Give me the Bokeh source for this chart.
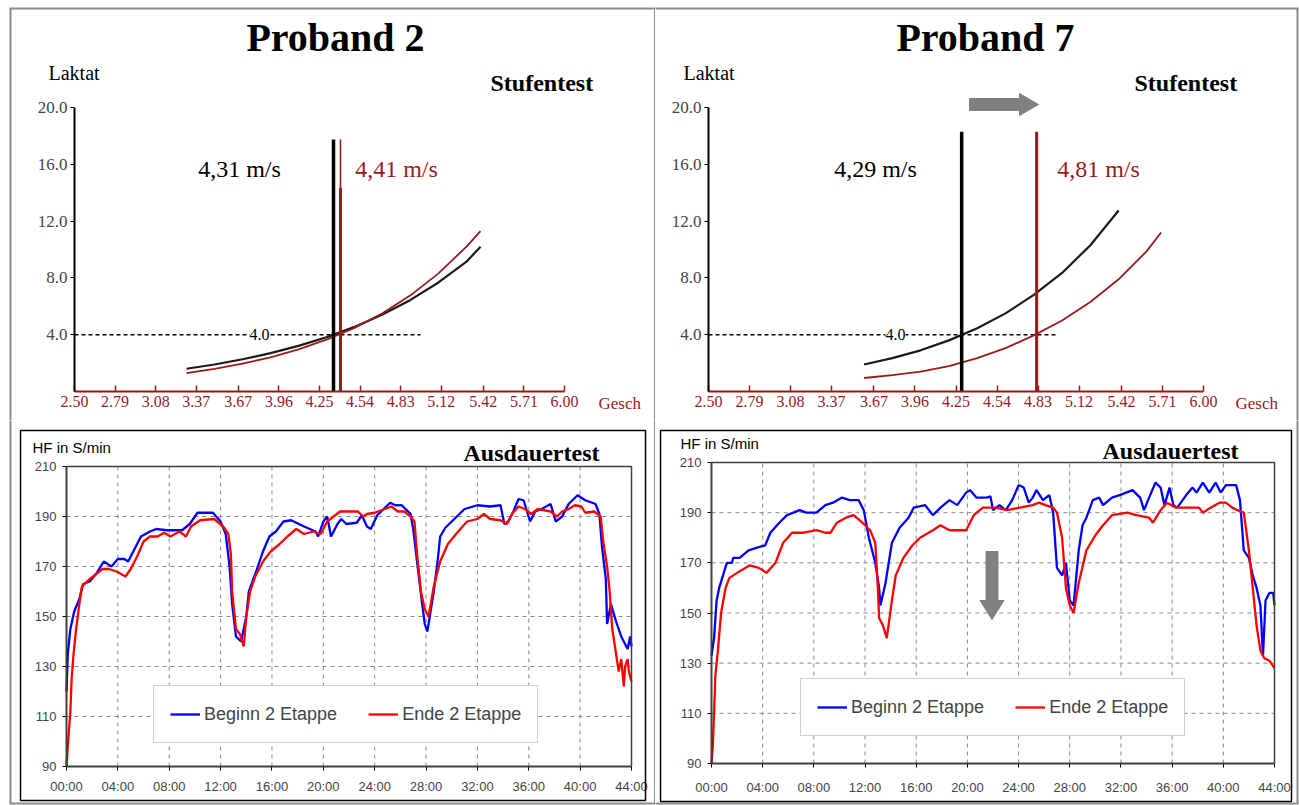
from bokeh.plotting import figure
from bokeh.models import Range1d, Label, BoxAnnotation, FixedTicker, PrintfTickFormatter
from bokeh.layouts import row, column
from bokeh.embed import file_html
from bokeh.resources import INLINE

# ---------------- data ----------------
titles = ["Proband 2", "Proband 7"]

geschw_ticks = [2.50, 2.79, 3.08, 3.37, 3.67, 3.96, 4.25, 4.54, 4.83, 5.12, 5.42, 5.71, 6.00]
laktat_ticks = [4, 8, 12, 16, 20]
zeit_ticks = [0, 4, 8, 12, 16, 20, 24, 28, 32, 36, 40, 44]
zeit_labels = ["00:00", "04:00", "08:00", "12:00", "16:00", "20:00", "24:00",
               "28:00", "32:00", "36:00", "40:00", "44:00"]
hf_ticks = [90, 110, 130, 150, 170, 190, 210]

# Stufentest (lactate vs. speed)
p2_v = [3.3, 3.5, 3.7, 3.9, 4.1, 4.3, 4.5, 4.7, 4.9, 5.1, 5.3, 5.4]
p2_laktat_beginn = [1.6, 1.9, 2.27, 2.70, 3.21, 3.82, 4.55, 5.42, 6.45, 7.68, 9.14, 10.2]
p2_laktat_ende = [1.3, 1.6, 1.96, 2.41, 2.97, 3.65, 4.48, 5.51, 6.77, 8.32, 10.2, 11.3]

p7_v_beginn = [3.6, 3.8, 4.0, 4.2, 4.4, 4.6, 4.8, 5.0, 5.2, 5.4]
p7_laktat_beginn = [1.9, 2.35, 2.9, 3.6, 4.45, 5.5, 6.8, 8.35, 10.3, 12.75]
p7_v_ende = [3.6, 3.8, 4.0, 4.2, 4.4, 4.6, 4.8, 5.0, 5.2, 5.4, 5.6, 5.7]
p7_laktat_ende = [0.95, 1.15, 1.4, 1.78, 2.35, 3.05, 3.95, 5.0, 6.3, 7.9, 9.9, 11.2]

schwelle_laktat = 4.0
p2_schwelle = [4.35, 4.40]
p2_schwelle_text = ["4,31 m/s", "4,41 m/s"]
p7_schwelle = [4.29, 4.82]
p7_schwelle_text = ["4,29 m/s", "4,81 m/s"]

# Ausdauertest (heart rate vs. time, minutes)
p2_beginn_min = [0.0, 0.1, 0.3, 0.6, 1.0, 1.3, 1.8, 2.3, 2.9, 3.5, 4.0, 4.5, 4.8, 5.3, 5.8, 6.5, 7.0,
                 7.8, 9.0, 9.6, 10.2, 11.4, 12.0, 12.4, 12.7, 12.9, 13.2, 13.6, 14.0, 14.2, 14.7, 15.3,
                 15.8, 16.3, 16.9, 17.5, 18.5, 19.4, 19.6, 20.0, 20.3, 20.6, 21.1, 21.4, 21.8, 22.6,
                 23.0, 23.4, 23.7, 24.2, 25.2, 25.6, 26.1, 26.8, 27.0, 27.3, 27.7, 27.9, 28.1, 28.6,
                 28.9, 29.1, 29.5, 30.4, 31.0, 32.0, 33.0, 33.8, 34.1, 34.4, 34.8, 35.2, 35.6, 36.1,
                 36.5, 37.0, 37.7, 38.1, 38.6, 39.1, 39.8, 40.4, 41.2, 41.5, 41.7, 42.0, 42.1, 42.4,
                 42.8, 43.2, 43.7, 43.9, 44.0]
p2_beginn_hf = [120, 135, 145, 152, 157, 163, 164, 167, 172, 170, 173, 173, 172, 177, 182, 184, 185,
                184.5, 184.5, 187, 191.5, 191.5, 188, 183, 170, 155, 142, 140, 150, 160, 167, 176,
                182, 184, 188, 188.5, 186, 184, 182, 188, 190, 182, 187, 189, 187, 187.5,
                190.5, 186, 185, 190.5, 195.5, 194.5, 194.5, 191, 185, 172, 155, 147, 144, 160,
                172, 182, 185.5, 190, 193, 194.5, 194, 194.5, 187, 188, 192, 197, 196.5, 188,
                192, 193, 195, 188, 190, 195, 198.5, 196.5, 195, 191, 178, 165, 147, 155,
                148, 142, 137, 142, 138]

p2_ende_min = [0.0, 0.1, 0.3, 0.4, 0.55, 0.75, 1.0, 1.2, 1.6, 2.3, 2.8, 3.3, 3.9, 4.6, 5.0, 5.5, 6.0,
               6.5, 7.1, 7.6, 8.1, 8.8, 9.3, 9.7, 10.4, 11.5, 12.2, 12.6, 12.8, 12.9, 13.2, 13.5,
               13.8, 14.0, 14.3, 14.7, 15.3, 15.9, 16.6, 17.2, 17.9, 18.5, 19.2, 19.8, 20.3, 20.8,
               21.3, 22.7, 23.1, 23.4, 24.0, 24.8, 25.3, 25.8, 26.3, 26.8, 27.1, 27.3, 27.6, 27.9,
               28.2, 28.6, 29.1, 29.7, 30.5, 31.2, 32.0, 32.5, 33.0, 33.8, 34.3, 34.7, 35.2, 35.7,
               36.2, 36.7, 37.7, 38.2, 38.6, 39.1, 39.6, 40.1, 40.4, 41.1, 41.6, 41.8, 42.1, 42.3,
               42.5, 42.8, 43.0, 43.2, 43.4, 43.5, 43.7, 43.8, 44.0]
p2_ende_hf = [90, 98, 112, 125, 135, 145, 155, 162, 164, 167, 169, 169, 168, 166, 169, 174, 180,
              182, 182, 183.5, 182, 184, 182, 186, 188.5, 189, 186, 183, 175, 160, 145, 143,
              138, 150, 160, 166, 172, 176, 179, 182, 185, 183, 184, 183, 188, 190,
              192, 192, 190, 191, 191.5, 193, 194, 192, 192, 190, 188, 175, 160, 153,
              150, 162, 172, 179, 184, 188, 189, 191, 189, 188.5, 187, 191, 194, 193,
              191, 193, 192, 190, 192, 193, 194.5, 194, 191.5, 192, 190, 180, 170, 160,
              145, 135, 128, 133, 122, 130, 133, 128, 124]

p7_beginn_min = [0.0, 0.2, 0.4, 0.6, 0.9, 1.2, 1.6, 1.7, 2.2, 2.9, 3.5, 4.2, 4.6, 5.3, 5.9, 6.9, 7.4,
                 8.2, 8.9, 9.5, 10.2, 10.8, 11.5, 11.9, 12.3, 12.8, 13.1, 13.2, 13.6, 14.1, 14.7,
                 15.4, 15.8, 16.7, 17.3, 17.9, 18.6, 19.2, 19.9, 20.2, 20.7, 21.5, 21.8, 22.0, 22.5,
                 23.0, 23.5, 24.0, 24.4, 24.8, 25.1, 25.4, 25.9, 26.4, 26.7, 27.0, 27.4, 27.7, 28.0,
                 28.3, 28.7, 29.0, 29.3, 29.8, 30.3, 30.6, 31.3, 31.9, 32.9, 33.5, 33.8, 34.2, 34.7,
                 35.1, 35.4, 35.8, 36.1, 36.4, 37.1, 37.6, 37.9, 38.4, 38.9, 39.4, 39.8, 40.2, 41.0,
                 41.3, 41.6, 42.0, 42.3, 42.6, 42.9, 43.1, 43.3, 43.6, 43.9, 44.0]
p7_beginn_hf = [133, 140, 155, 160, 165, 170, 170, 172, 172, 175, 176, 177, 182, 186, 189, 191, 190,
                190, 193, 194, 196, 195, 195, 191, 180, 170, 160, 153, 162, 178, 184,
                188, 192, 193, 189, 192, 195, 193, 198, 199, 196, 196, 196.5, 191, 193,
                191, 195, 201, 200, 194, 196, 199, 195, 197, 190, 168, 165, 170, 155,
                153, 175, 185, 188, 195, 196, 193, 196, 197, 199, 196, 191, 196, 202,
                200, 193, 200, 193, 192, 197, 200, 198, 202, 198, 202, 198, 201, 201,
                195, 175, 172, 165, 160, 153, 133, 155, 158, 158, 153]

p7_ende_min = [0.0, 0.1, 0.2, 0.3, 0.5, 0.75, 1.1, 1.4, 2.0, 3.0, 3.7, 4.3, 5.0, 5.6, 6.3, 7.2, 8.2,
               8.9, 9.3, 9.8, 10.5, 11.1, 11.8, 12.4, 12.8, 13.0, 13.1, 13.4, 13.7, 14.1, 14.4,
               15.0, 15.7, 16.3, 17.3, 17.9, 18.6, 19.2, 19.9, 20.5, 21.2, 22.2, 23.1, 24.1, 25.1,
               25.6, 26.1, 26.7, 27.0, 27.4, 27.7, 28.0, 28.3, 28.7, 29.3, 30.0, 30.6, 31.3, 32.5,
               33.2, 34.2, 34.5, 35.1, 35.6, 36.3, 37.1, 38.1, 38.4, 39.0, 39.7, 40.2, 40.7, 41.1,
               41.6, 42.0, 42.3, 42.6, 42.9, 43.2, 43.6, 44.0]
p7_ende_hf = [90, 97, 110, 125, 135, 150, 160, 164, 166, 169, 168, 166, 170, 178, 182, 182, 183,
              182, 182, 186, 188, 189, 186, 183, 178, 160, 148, 145, 140, 155, 165,
              172, 177, 180, 183, 185, 183, 183, 183, 189, 192, 192, 191, 192, 193,
              194, 193, 192, 190, 180, 160, 153, 150, 162, 175, 181, 185, 189, 190,
              189, 188, 186, 191, 194, 192, 192, 192, 190, 192, 194, 194, 192, 191,
              190, 175, 160, 145, 135, 132, 131, 128]

# ---------------- styling constants ----------------
DARKRED = "#9a1a1a"
SERIF = "Liberation Serif"
SANS = "Liberation Sans"
GRAYLINE = "#8c8c8c"


def lin(pa, va, pb, vb):
    k = (vb - va) / (pb - pa)
    return lambda p: va + (p - pa) * k


def panel(canvas, xcal, ycal):
    """Figure whose frame fills the whole canvas; axes are pinned with fixed_location."""
    cx0, cy0, cx1, cy1 = canvas
    X = lin(*xcal)
    Y = lin(*ycal)
    p = figure(width=cx1 - cx0, height=cy1 - cy0,
               x_range=Range1d(X(cx0), X(cx1)), y_range=Range1d(Y(cy1), Y(cy0)),
               min_border_left=0, min_border_right=0, min_border_top=0, min_border_bottom=0,
               output_backend="svg", toolbar_location=None)
    p.background_fill_color = "white"
    p.border_fill_color = "white"
    p.outline_line_color = None
    p.grid.visible = False
    return p, X, Y


def label(p, X, Y, px, py, text, size, font=SERIF, style="normal", color="black",
          align="left", baseline="middle", bg=None):
    p.add_layout(Label(x=X(px), y=Y(py), text=text, text_font=font,
                       text_font_size=f"{size}px", text_font_style=style,
                       text_color=color, text_align=align, text_baseline=baseline,
                       background_fill_color=bg))


def box(p, X, Y, x0, y0, x1, y1, color, width):
    p.add_layout(BoxAnnotation(left=X(x0), right=X(x1), top=Y(y0), bottom=Y(y1),
                               fill_color=None, fill_alpha=0, line_color=color,
                               line_alpha=1, line_width=width))


def frame_lines(p, X, Y, segs, color=GRAYLINE, width=2):
    """Straight decorative border pieces given in page pixels."""
    p.segment(x0=[X(s[0]) for s in segs], y0=[Y(s[1]) for s in segs],
              x1=[X(s[2]) for s in segs], y1=[Y(s[3]) for s in segs],
              line_color=color, line_width=width)


def style_stufen(p):
    xa = p.xaxis[0]
    xa.fixed_location = 0
    xa.ticker = FixedTicker(ticks=geschw_ticks)
    xa.formatter = PrintfTickFormatter(format="%.2f")
    xa.bounds = (geschw_ticks[0], geschw_ticks[-1])
    xa.axis_line_color = DARKRED
    xa.axis_line_width = 2
    xa.major_tick_line_color = DARKRED
    xa.major_tick_line_width = 1.5
    xa.major_tick_in = 6
    xa.major_tick_out = 0
    xa.minor_tick_line_color = None
    xa.major_label_text_color = DARKRED
    xa.major_label_text_font = SERIF
    xa.major_label_text_font_size = "16px"
    xa.major_label_standoff = 4
    ya = p.yaxis[0]
    ya.fixed_location = geschw_ticks[0]
    ya.ticker = FixedTicker(ticks=laktat_ticks)
    ya.formatter = PrintfTickFormatter(format="%.1f")
    ya.bounds = (0, laktat_ticks[-1])
    ya.axis_line_color = "black"
    ya.axis_line_width = 2
    ya.major_tick_line_color = "black"
    ya.major_tick_in = 0
    ya.major_tick_out = 4
    ya.minor_tick_line_color = None
    ya.major_label_text_font = SERIF
    ya.major_label_text_font_size = "17px"
    ya.major_label_standoff = 3


def style_hf(p, standoff_x):
    # dashed grid, drawn through the data scales at the tick positions
    p.segment(x0=zeit_ticks, y0=[hf_ticks[0]] * len(zeit_ticks),
              x1=zeit_ticks, y1=[hf_ticks[-1]] * len(zeit_ticks),
              line_color="#8a8a8a", line_width=1, line_dash="4 4")
    p.segment(x0=[zeit_ticks[0]] * len(hf_ticks), y0=hf_ticks,
              x1=[zeit_ticks[-1]] * len(hf_ticks), y1=hf_ticks,
              line_color="#8a8a8a", line_width=1, line_dash="4 4")
    xa = p.xaxis[0]
    xa.fixed_location = hf_ticks[0]
    xa.bounds = (zeit_ticks[0], zeit_ticks[-1])
    xa.ticker = FixedTicker(ticks=zeit_ticks)
    xa.major_label_overrides = {t: s for t, s in zip(zeit_ticks, zeit_labels)}
    xa.major_label_standoff = standoff_x
    ya = p.yaxis[0]
    ya.fixed_location = zeit_ticks[0]
    ya.bounds = (hf_ticks[0], hf_ticks[-1])
    ya.ticker = FixedTicker(ticks=hf_ticks)
    ya.major_label_standoff = 6
    for a in (xa, ya):
        a.axis_line_color = "black"
        a.axis_line_width = 1.5
        a.major_tick_line_color = "black"
        a.major_tick_in = 0
        a.major_tick_out = 4
        a.minor_tick_line_color = None
        a.major_label_text_font = SANS
        a.major_label_text_font_size = "13px"


def style_legend(p, loc):
    lg = p.legend[0]
    lg.location = loc
    lg.orientation = "horizontal"
    lg.margin = 0
    lg.padding = 16
    lg.spacing = 31
    lg.glyph_width = 30
    lg.glyph_height = 24
    lg.label_standoff = 4
    lg.label_text_font = SANS
    lg.label_text_font_size = "18px"
    lg.border_line_color = "#a0a0a0"
    lg.border_line_width = 1.5
    lg.background_fill_color = "white"
    lg.background_fill_alpha = 1


def stufen(canvas, xcal, title, title_px, laktat_px, stufen_px, gesch_px,
           v_b, la_b, v_e, la_e, schwelle, texts, text_px, line_top, dash_end_px, four_px,
           split_red):
    p, X, Y = panel(canvas, xcal, (391, 0, 107, 20))
    style_stufen(p)
    # 4 mmol threshold dashed line
    p.line([geschw_ticks[0], X(dash_end_px)], [schwelle_laktat, schwelle_laktat],
           line_color="black", line_width=1.5, line_dash="4 3")
    # lactate curves
    p.line(v_b, la_b, line_color="#1a1a1a", line_width=2.2)
    p.line(v_e, la_e, line_color=DARKRED, line_width=1.8)
    # threshold speed verticals
    p.segment(x0=[schwelle[0]], y0=[0], x1=[schwelle[0]], y1=[line_top],
              line_color="black", line_width=3.5)
    if split_red:
        p.segment(x0=[schwelle[1]], y0=[0], x1=[schwelle[1]], y1=[Y(187)],
                  line_color=DARKRED, line_width=3)
        p.segment(x0=[schwelle[1]], y0=[Y(187)], x1=[schwelle[1]], y1=[line_top],
                  line_color=DARKRED, line_width=1.6)
    else:
        p.segment(x0=[schwelle[1]], y0=[0], x1=[schwelle[1]], y1=[line_top],
                  line_color=DARKRED, line_width=3)
    label(p, X, Y, four_px, 334, "4.0", 16, bg="white", align="center")
    label(p, X, Y, text_px[0], 168, texts[0], 24, align="center")
    label(p, X, Y, text_px[1], 168, texts[1], 24, color=DARKRED, align="center")
    label(p, X, Y, title_px, 37, title, 40, style="bold", align="center")
    label(p, X, Y, laktat_px, 72, "Laktat", 20)
    label(p, X, Y, stufen_px, 82, "Stufentest", 24, style="bold")
    label(p, X, Y, gesch_px, 403, "Gesch", 17, color=DARKRED)
    return p, X, Y


# ---------------- top left: Proband 2 ----------------
p_tl, X1, Y1 = stufen((0, 0, 655, 420), (74, 2.5, 564, 6.0),
                      titles[0], 335, 48, 490, 598,
                      p2_v, p2_laktat_beginn, p2_v, p2_laktat_ende,
                      p2_schwelle, p2_schwelle_text, (239, 396), 17.75, 420, 259, True)
frame_lines(p_tl, X1, Y1, [(9, 8, 655, 8), (10, 8, 10, 425), (654.5, 8, 654.5, 425)])

# ---------------- top right: Proband 7 ----------------
p_tr, X2, Y2 = stufen((655, 0, 1299, 420), (708, 2.5, 1203, 6.0),
                      titles[1], 985, 683, 1134, 1235,
                      p7_v_beginn, p7_laktat_beginn, p7_v_ende, p7_laktat_ende,
                      p7_schwelle, p7_schwelle_text, (875, 1098), 18.3, 1058, 895, False)
frame_lines(p_tr, X2, Y2, [(650, 8, 1298, 8), (1297, 8, 1297, 425)])
# gray right-pointing arrow
ax = [X2(969), X2(1019), X2(1019), X2(1038), X2(1019), X2(1019), X2(969)]
ay = [Y2(98), Y2(98), Y2(93), Y2(104), Y2(115), Y2(110), Y2(110)]
p_tr.patch(ax, ay, fill_color="#808080", line_color="#808080", line_width=1)

# ---------------- bottom left: Ausdauertest Proband 2 ----------------
p_bl, X3, Y3 = panel((0, 420, 655, 805), (66, 0, 631, 44), (766, 90, 466, 210))
style_hf(p_bl, 8)
p_bl.line(p2_beginn_min, p2_beginn_hf, line_color="#0000ff", line_width=2.3, legend_label="Beginn 2 Etappe")
p_bl.line(p2_ende_min, p2_ende_hf, line_color="#ff0000", line_width=2.3, legend_label="Ende 2 Etappe")
style_legend(p_bl, (153, 62))
box(p_bl, X3, Y3, 66, 466, 631, 766, "#404040", 1.5)
frame_lines(p_bl, X3, Y3, [(10, 415, 10, 803), (654.5, 415, 654.5, 803), (9, 803, 655, 803)])
box(p_bl, X3, Y3, 20, 430, 645, 800, "black", 1.5)
label(p_bl, X3, Y3, 32, 447, "HF in S/min", 15, font=SANS)
label(p_bl, X3, Y3, 463, 452, "Ausdauertest", 24, style="bold")

# ---------------- bottom right: Ausdauertest Proband 7 ----------------
p_br, X4, Y4 = panel((655, 420, 1299, 805), (711, 0, 1274, 44), (763, 90, 462, 210))
style_hf(p_br, 12)
p_br.line(p7_beginn_min, p7_beginn_hf, line_color="#0000ff", line_width=2.3, legend_label="Beginn 2 Etappe")
p_br.line(p7_ende_min, p7_ende_hf, line_color="#ff0000", line_width=2.3, legend_label="Ende 2 Etappe")
style_legend(p_br, (145, 69))
# gray downward arrow
cx = 991.5
dx = [X4(cx - 6), X4(cx + 6), X4(cx + 6), X4(cx + 12), X4(cx), X4(cx - 12), X4(cx - 6)]
dy = [Y4(551), Y4(551), Y4(600), Y4(600), Y4(619), Y4(600), Y4(600)]
p_br.patch(dx, dy, fill_color="#808080", line_color="#808080", line_width=1)
box(p_br, X4, Y4, 711, 462, 1274, 763, "#404040", 1.5)
frame_lines(p_br, X4, Y4, [(1297, 415, 1297, 803), (650, 803, 1298, 803)])
box(p_br, X4, Y4, 660, 430, 1291, 801, "black", 1.5)
label(p_br, X4, Y4, 680, 443, "HF in S/min", 15, font=SANS)
label(p_br, X4, Y4, 1102, 450, "Ausdauertest", 24, style="bold")

layout = row(column(p_tl, p_bl), column(p_tr, p_br))
open("out.html", "w").write(file_html(layout, INLINE))
